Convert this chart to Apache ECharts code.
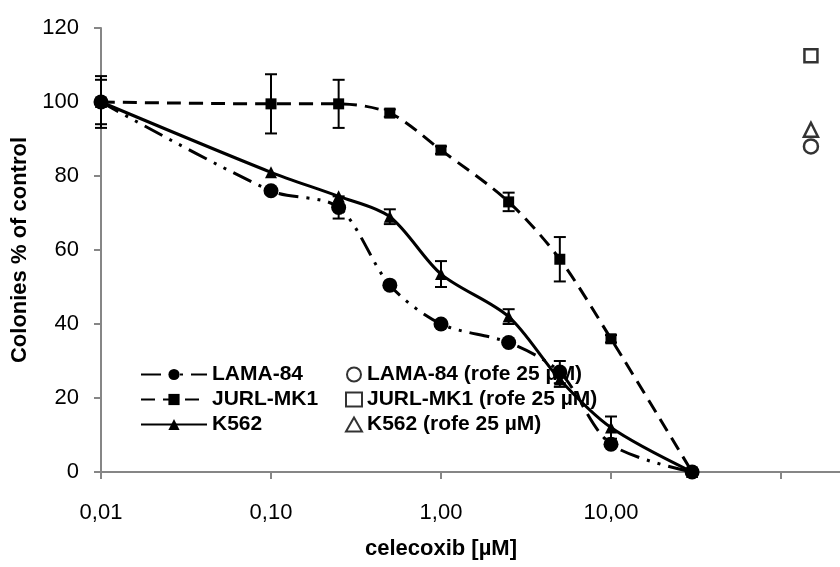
<!DOCTYPE html>
<html>
<head>
<meta charset="utf-8">
<script src="https://cdn.jsdelivr.net/npm/echarts@6/dist/echarts.min.js"></script>
<style>
  html, body { margin: 0; background: #fff; }
  #chart { width: 840px; height: 567px; }
</style>
</head>
<body>
<div id="chart"></div>
<script>
// celecoxib concentrations (µM)
const conc = [0.01, 0.1, 0.25, 0.5, 1, 2.5, 5, 10, 30];

const lama84 = [100, 76, 71.5, 50.5, 40, 35, 27, 7.5, 0];
const lama84Err = [7, 0, 3, 0, 0, 0, 3, 0, 0];
const jurlMk1 = [100, 99.5, 99.5, 97, 87, 73, 57.5, 36, 0];
const jurlMk1Err = [6, 8, 6.5, 1, 1, 2.5, 6, 1, 0];
const k562 = [100, 81, 74.5, 69, 53.5, 42, 25, 12, 0];
const k562Err = [0, 0, 0, 2, 3.5, 2, 2, 3, 0];

// rofecoxib 25 µM single points, drawn at the right of the plot
const rofeX = [150];
const rofeLama84 = [88];
const rofeJurlMk1 = [112.5];
const rofeK562 = [92.5];

const xTickValues = [0.01, 0.1, 1, 10];
const yTicks = [0, 20, 40, 60, 80, 100, 120];

const FONT = 'Liberation Sans, Arial, sans-serif';
const AXIS_GREY = '#868686';

const chart = echarts.init(document.getElementById('chart'));

function pairs(xs, ys) {
  return xs.map((x, i) => [x, ys[i]]);
}

function errorBars(name, ys, errs) {
  return {
    type: 'custom',
    name: name,
    silent: true,
    z: 4,
    data: conc.map((x, i) => [x, ys[i], errs[i]]),
    encode: { x: 0, y: 1 },
    renderItem: function (params, api) {
      const x = api.value(0), y = api.value(1), e = api.value(2);
      if (!e) return null;
      const top = api.coord([x, y + e]);
      const bot = api.coord([x, y - e]);
      const w = 6;
      const style = { stroke: '#000', lineWidth: 2 };
      return {
        type: 'group',
        children: [
          { type: 'line', shape: { x1: top[0], y1: top[1], x2: bot[0], y2: bot[1] }, style: style },
          { type: 'line', shape: { x1: top[0] - w, y1: top[1], x2: top[0] + w, y2: top[1] }, style: style },
          { type: 'line', shape: { x1: bot[0] - w, y1: bot[1], x2: bot[0] + w, y2: bot[1] }, style: style }
        ]
      };
    }
  };
}

function lineSeries(name, ys, symbol, size, dash) {
  return {
    type: 'line',
    name: name,
    data: pairs(conc, ys),
    symbol: symbol,
    symbolSize: size,
    smooth: 0.3,
    z: 3,
    lineStyle: { color: '#000', width: 3, type: dash },
    itemStyle: { color: '#000' }
  };
}

function rofeSeries(name, ys, symbol, size) {
  return {
    type: 'scatter',
    name: name,
    data: pairs(rofeX, ys),
    symbol: symbol,
    symbolSize: size,
    itemStyle: { color: '#fff', borderColor: '#000', borderWidth: 2.5 }
  };
}

const legendText = { fontSize: 21, fontWeight: 'bold', color: '#000', fontFamily: FONT };

chart.setOption({
  animation: false,
  backgroundColor: '#fff',
  // plot runs past the right edge (0.01 .. 1000, 170 px per decade)
  grid: { left: 101, top: 28, bottom: 95, width: 850, outerBoundsMode: 'none' },
  legend: [
    {
      data: ['LAMA-84', 'JURL-MK1', 'K562'],
      orient: 'vertical',
      left: 135,
      top: 359,
      itemWidth: 66,
      itemHeight: 14,
      itemGap: 4,
      textStyle: legendText
    },
    {
      data: ['LAMA-84 (rofe 25 µM)', 'JURL-MK1 (rofe 25 µM)', 'K562 (rofe 25 µM)'],
      orient: 'vertical',
      left: 340,
      top: 359,
      itemWidth: 16,
      itemHeight: 14,
      itemGap: 4,
      textStyle: legendText
    }
  ],
  xAxis: {
    type: 'log',
    logBase: 10,
    min: 0.01,
    max: 1000,
    name: 'celecoxib [µM]',
    nameLocation: 'middle',
    nameGap: 66,
    nameTextStyle: {
      fontSize: 22, fontWeight: 'bold', color: '#000', fontFamily: FONT,
      padding: [0, 170, 0, 0]
    },
    axisLine: { lineStyle: { color: AXIS_GREY, width: 2 } },
    axisTick: { length: 7, lineStyle: { color: AXIS_GREY, width: 2 } },
    splitLine: { show: false },
    axisLabel: {
      fontSize: 22,
      color: '#000',
      fontFamily: FONT,
      margin: 30,
      formatter: function (v) {
        return xTickValues.some(t => Math.abs(t - v) < 1e-9) ? v.toFixed(2).replace('.', ',') : '';
      }
    }
  },
  yAxis: {
    type: 'value',
    min: 0,
    max: 120,
    interval: 20,
    name: 'Colonies % of control',
    nameLocation: 'middle',
    nameGap: 64,
    nameTextStyle: { fontSize: 22, fontWeight: 'bold', color: '#000', fontFamily: FONT },
    axisLine: { show: true, lineStyle: { color: AXIS_GREY, width: 2 } },
    axisTick: { show: true, length: 7, lineStyle: { color: AXIS_GREY, width: 2 } },
    splitLine: { show: false },
    axisLabel: {
      fontSize: 22,
      color: '#000',
      fontFamily: FONT,
      margin: 22,
      formatter: function (v) { return yTicks.indexOf(v) >= 0 ? String(v) : ''; }
    }
  },
  series: [
    errorBars('errLama', lama84, lama84Err),
    errorBars('errJurl', jurlMk1, jurlMk1Err),
    errorBars('errK562', k562, k562Err),
    lineSeries('LAMA-84', lama84, 'circle', 15, [20, 8, 3, 8, 3, 8]),
    lineSeries('JURL-MK1', jurlMk1, 'rect', 11, [14, 8]),
    lineSeries('K562', k562, 'triangle', 12, 'solid'),
    rofeSeries('LAMA-84 (rofe 25 µM)', rofeLama84, 'circle', 14),
    rofeSeries('JURL-MK1 (rofe 25 µM)', rofeJurlMk1, 'rect', 13),
    rofeSeries('K562 (rofe 25 µM)', rofeK562, 'triangle', 14)
  ]
});
</script>
</body>
</html>
